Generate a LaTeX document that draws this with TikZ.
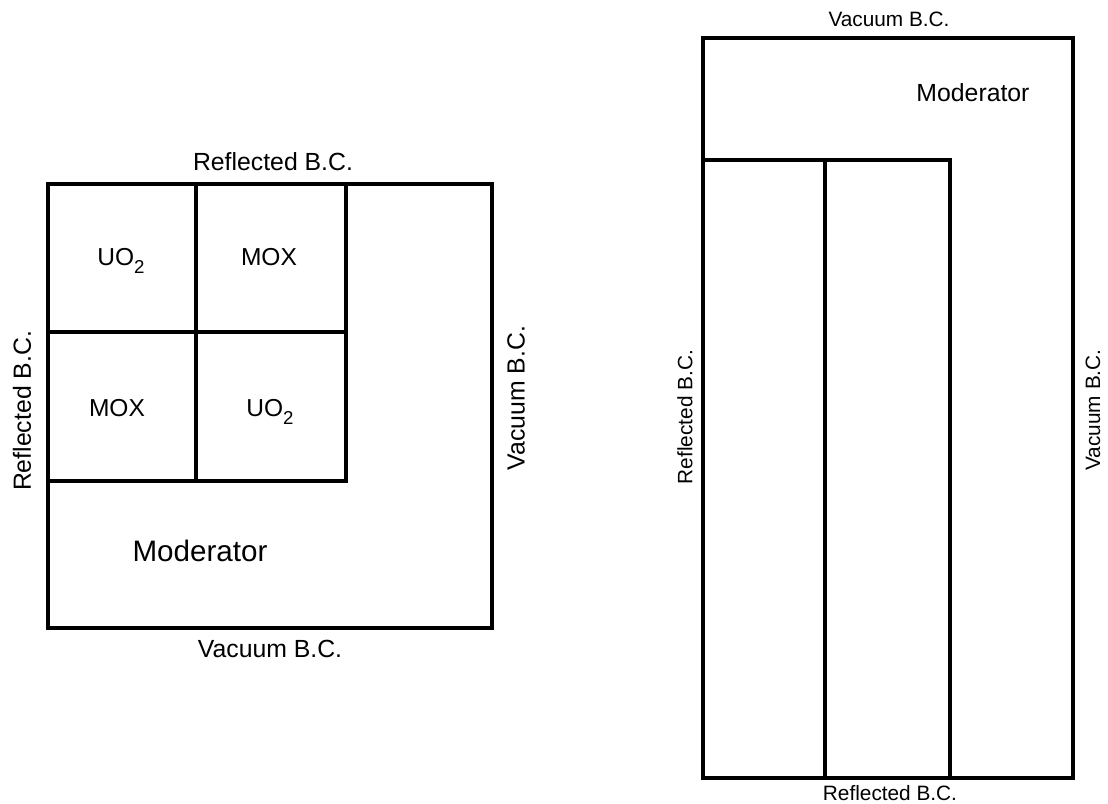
\documentclass[tikz,border=0pt]{standalone}
\usepackage{fontspec}
\setmainfont{Liberation Sans}
\usepackage{tikz}

\newcommand{\uotwo}{UO\raisebox{-0.6ex}{\fontsize{14}{14}\selectfont 2}}

\begin{document}
\begin{tikzpicture}[x=0.75pt,y=-0.75pt,
    wall/.style={line width=2.4pt},
    bclabel/.style={font=\fontsize{18.6}{22}\selectfont},
    bcsmall/.style={font=\fontsize{15.6}{18}\selectfont},
    cell/.style={font=\fontsize{18.4}{22}\selectfont}]
			\useasboundingbox (0,0) rectangle (1108,804);

			% left geometry: quarter core
			\draw[wall] (48,184) rectangle (492,628);
			\draw[wall] (48,481) -| (346,184);
			\draw[wall] (48,332) -- (346,332);
			\draw[wall] (196,184) -- (196,481);

			% fuel assemblies
			\node[cell] (uoA) at (121,261) {\uotwo};
			\node[cell] (moxA) at (269,257) {MOX};
			\node[cell] (moxB) at (117,408) {MOX};
			\node[cell] (uoB) at (270,412) {\uotwo};
			\node[font=\fontsize{22.2}{26}\selectfont] (modL) at (200,551) {Moderator};

			% boundary conditions
			\node[bclabel] (topL) at (273,162) {Reflected B.C.};
			\node[bclabel] (botL) at (270,649) {Vacuum B.C.};
			\node[bclabel, rotate=90] (leftL) at (22,411) {Reflected B.C.};
			\node[bclabel, rotate=90] (rightL) at (516,398) {Vacuum B.C.};

			% right geometry: axial slice
			\draw[wall] (703,38) rectangle (1073,778);
			\draw[wall] (703,160) -| (950,778);
			\draw[wall] (825,160) -- (825,778);
			\node[font=\fontsize{18.6}{22}\selectfont] (modR) at (973,93) {Moderator};

			% boundary conditions
			\node[bcsmall] (topR) at (889,19) {Vacuum B.C.};
			\node[bcsmall] (botR) at (890,793) {Reflected B.C.};
			\node[bcsmall, rotate=90] (leftR) at (685,417) {Reflected B.C.};
			\node[bcsmall, rotate=90] (rightR) at (1093,410) {Vacuum B.C.};
		\end{tikzpicture}
\end{document}
